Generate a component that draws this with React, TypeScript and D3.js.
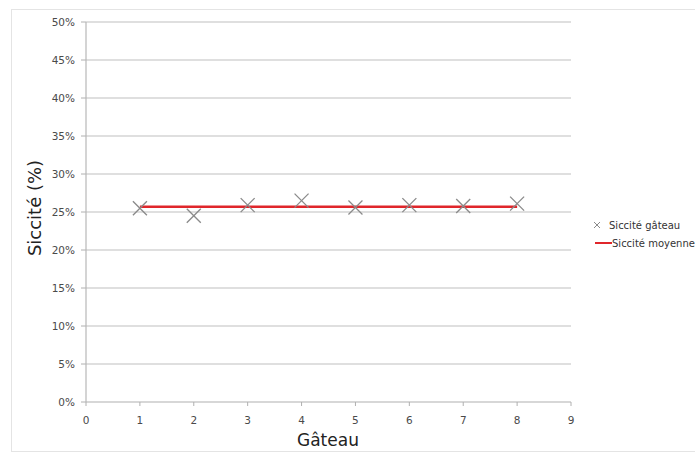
import React from "react";
import * as d3 from "d3";

const gateaux = [1, 2, 3, 4, 5, 6, 7, 8];
const siccite = [0.255, 0.245, 0.259, 0.265, 0.256, 0.259, 0.258, 0.261];
const moyenne = 0.257;
const yTicks = [0, 0.05, 0.1, 0.15, 0.2, 0.25, 0.3, 0.35, 0.4, 0.45, 0.5];
const xTicks = [0, 1, 2, 3, 4, 5, 6, 7, 8, 9];

export default function App() {
  const W = 695, H = 457;
  const x = d3.scaleLinear().domain([0, 9]).range([86, 571]);
  const y = d3.scaleLinear().domain([0, 0.5]).range([402, 22]);
  const fmt = d3.format(".0%");
  const font = "DejaVu Sans, Verdana, sans-serif";
  const lineGen = d3.line<number>().x((d) => x(d)).y(() => y(moyenne));
  const m = 7;
  return (
    <svg width={W} height={H} style={{ position: "absolute", left: 0, top: 0, background: "#fff" }}>
      <rect x={11.5} y={9.5} width={700} height={442} fill="#fff" stroke="#e4e4e4" />
      {yTicks.map((t) => (
        <g key={t}>
          <line x1={x(0)} x2={x(9)} y1={y(t)} y2={y(t)} stroke={t === 0 ? "#b0b0b0" : "#c0c0c0"} strokeWidth={1.2} />
          <line x1={81} x2={86} y1={y(t)} y2={y(t)} stroke="#b0b0b0" />
          <text x={75} y={y(t)} dy="0.35em" textAnchor="end" fontSize={10.5} fill="#4a4a4a" fontFamily={font}>
            {fmt(t)}
          </text>
        </g>
      ))}
      <line x1={x(0)} x2={x(0)} y1={y(0.5)} y2={y(0)} stroke="#b8b8b8" strokeWidth={1.2} />
      {xTicks.map((t) => (
        <g key={t}>
          <line x1={x(t)} x2={x(t)} y1={402} y2={406} stroke="#b0b0b0" />
          <text x={x(t)} y={420} dy="0.35em" textAnchor="middle" fontSize={10.5} fill="#4a4a4a" fontFamily={font}>
            {t}
          </text>
        </g>
      ))}
      <path d={lineGen([gateaux[0], gateaux[gateaux.length - 1]]) || ""} stroke="#e0262b" strokeWidth={2.5} fill="none" />
      {gateaux.map((g, i) => (
        <g key={g} stroke="#8a8a8a" strokeWidth={1.3}>
          <line x1={x(g) - m} x2={x(g) + m} y1={y(siccite[i]) - m} y2={y(siccite[i]) + m} />
          <line x1={x(g) - m} x2={x(g) + m} y1={y(siccite[i]) + m} y2={y(siccite[i]) - m} />
        </g>
      ))}
      <text x={328} y={440} dy="0.35em" textAnchor="middle" fontSize={17} fill="#222" fontFamily={font}>
        Gâteau
      </text>
      <text transform={`translate(35,${208}) rotate(-90)`} dy="0.35em" textAnchor="middle" fontSize={18} fill="#222" fontFamily={font}>
        Siccité (%)
      </text>
      <g stroke="#8a8a8a" strokeWidth={1}>
        <line x1={594} x2={600} y1={222} y2={228} />
        <line x1={594} x2={600} y1={228} y2={222} />
      </g>
      <text x={609} y={225} dy="0.35em" fontSize={10} fill="#333" fontFamily={font}>
        Siccité gâteau
      </text>
      <line x1={595} x2={612} y1={243} y2={243} stroke="#e0262b" strokeWidth={2} />
      <text x={612} y={243} dy="0.35em" fontSize={10} fill="#333" fontFamily={font}>
        Siccité moyenne
      </text>
    </svg>
  );
}
